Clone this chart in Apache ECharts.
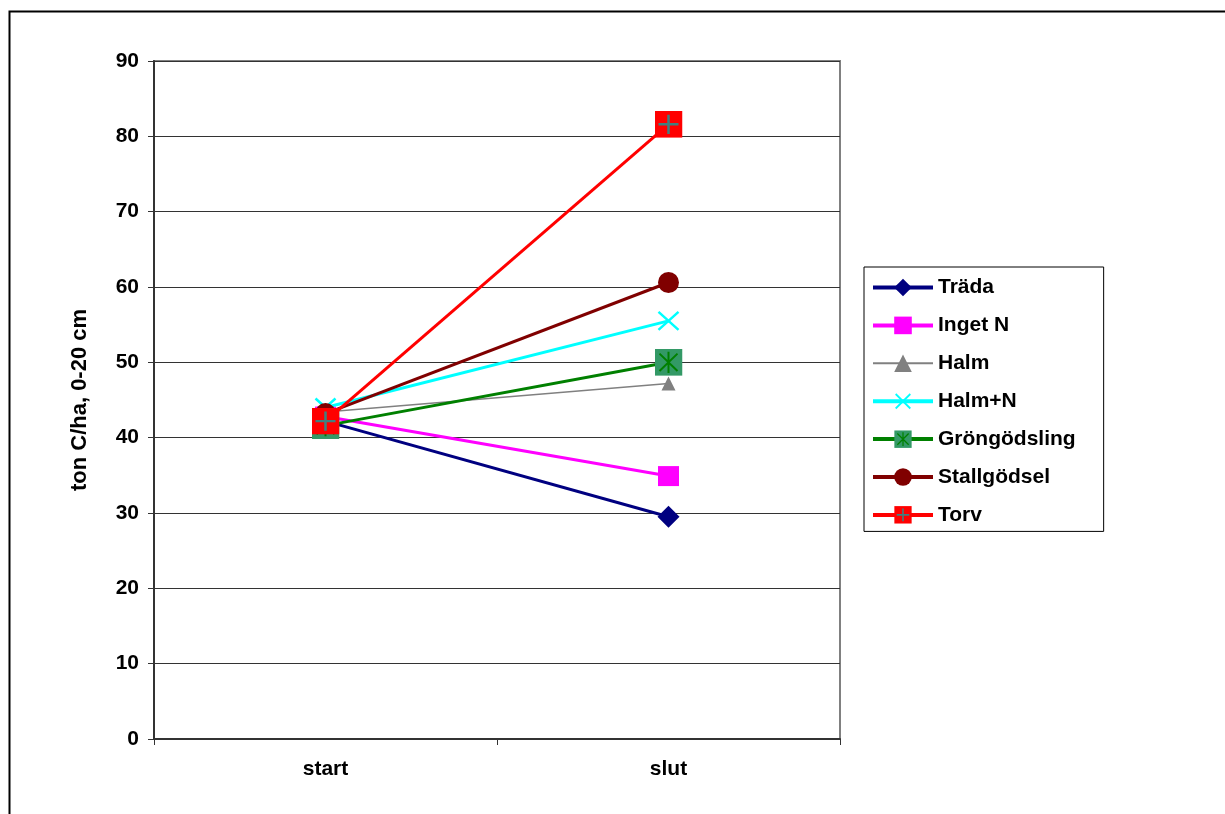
<!DOCTYPE html>
<html>
<head>
<meta charset="utf-8">
<script src="https://cdn.jsdelivr.net/npm/echarts@6/dist/echarts.min.js"></script>
<style>
  html, body { margin: 0; padding: 0; background: #fff; }
  #chart { width: 1225px; height: 814px; }
</style>
</head>
<body>
<div id="chart"></div>
<script>
// Soil carbon stock (ton C/ha, 0-20 cm) at the start and end of the trial
const categories = ['start', 'slut'];
const seriesNames = ['Träda', 'Inget N', 'Halm', 'Halm+N', 'Gröngödsling', 'Stallgödsel', 'Torv'];
const trada        = [42.2, 29.5];
const ingetN       = [42.8, 34.9];
const halm         = [43.4, 47.2];
const halmN        = [44.0, 55.5];
const grongodsling = [41.6, 50.0];
const stallgodsel  = [43.2, 60.6];
const torv         = [42.2, 81.6];
const yTicks = { min: 0, max: 90, step: 10 };

// Two-colour marker shapes as inline SVG images (used in plot and legend alike)
function svgSymbol(w, h, body) {
  const svg = "<svg xmlns='http://www.w3.org/2000/svg' width='" + w + "' height='" + h +
    "' viewBox='0 0 " + w + " " + h + "'>" + body + "</svg>";
  return 'image://data:image/svg+xml;charset=utf-8,' + encodeURIComponent(svg);
}
const starSquare = svgSymbol(28, 28,
  "<rect width='28' height='28' fill='#339966'/>" +
  "<path d='M14 3V25M5 5L23 23M23 5L5 23' stroke='#008000' stroke-width='2' fill='none'/>");
const plusSquare = svgSymbol(28, 28,
  "<rect width='28' height='28' fill='#ff0000'/>" +
  "<path d='M14 4V24M4 14H24' stroke='#3f8080' stroke-width='2.5' fill='none'/>");
const cross = svgSymbol(24, 22,
  "<path d='M2 2L22 20M22 2L2 20' stroke='#00ffff' stroke-width='2.5' fill='none'/>");

const styles = [
  { color: '#000080', width: 3,   legendWidth: 4, symbol: 'diamond',  size: [22, 22] },
  { color: '#ff00ff', width: 3,   legendWidth: 4, symbol: 'rect',     size: [21, 20] },
  { color: '#808080', width: 1.5, legendWidth: 2, symbol: 'triangle', size: [14, 14] },
  { color: '#00ffff', width: 3,   legendWidth: 4, symbol: cross,      size: [24, 22] },
  { color: '#008000', width: 3,   legendWidth: 4, symbol: starSquare, size: [28, 27] },
  { color: '#800000', width: 3,   legendWidth: 4, symbol: 'circle',   size: [21, 21] },
  { color: '#ff0000', width: 3,   legendWidth: 4, symbol: plusSquare, size: [28, 27] }
];
const values = [trada, ingetN, halm, halmN, grongodsling, stallgodsel, torv];

const font = 'Arial, "Liberation Sans", sans-serif';

const chart = echarts.init(document.getElementById('chart'), null, { renderer: 'canvas' });
chart.setOption({
  animation: false,
  backgroundColor: '#ffffff',
  graphic: [{
    type: 'rect',
    left: 7, top: 9,
    shape: { width: 1400, height: 1000 },
    style: { fill: 'none', stroke: '#000', lineWidth: 2 },
    silent: true, z: -10
  }],
  grid: {
    left: 154, right: 385, top: 61, bottom: 75,
    show: true, borderColor: '#808080', borderWidth: 2,
    containLabel: false
  },
  legend: {
    orient: 'vertical',
    left: 864, top: 267,
    padding: [10, 28, 6, 7],
    itemWidth: 60, itemHeight: 22, itemGap: 16.9,
    borderColor: '#000', borderWidth: 1,
    backgroundColor: '#fff',
    data: seriesNames.map((name, i) => ({
      name: name,
      lineStyle: { width: styles[i].legendWidth }
    })),
    textStyle: { fontFamily: font, fontWeight: 'bold', fontSize: 21, color: '#000' }
  },
  xAxis: {
    type: 'category',
    data: categories,
    boundaryGap: true,
    axisLine: { lineStyle: { color: '#333', width: 2 } },
    axisTick: { show: true, length: 6, lineStyle: { color: '#333', width: 1 } },
    axisLabel: { margin: 20, fontFamily: font, fontWeight: 'bold', fontSize: 21, color: '#000' },
    splitLine: { show: false }
  },
  yAxis: {
    type: 'value',
    min: yTicks.min, max: yTicks.max, interval: yTicks.step,
    name: 'ton C/ha, 0-20 cm',
    nameLocation: 'middle',
    nameRotate: 90,
    nameGap: 63,
    nameTextStyle: { fontFamily: font, fontWeight: 'bold', fontSize: 22, color: '#000' },
    axisLine: { show: true, lineStyle: { color: '#333', width: 2 } },
    axisTick: { show: true, length: 6, lineStyle: { color: '#333', width: 1 } },
    axisLabel: { margin: 15, fontFamily: font, fontWeight: 'bold', fontSize: 21, color: '#000' },
    splitLine: { show: true, lineStyle: { color: '#333', width: 1 } }
  },
  series: seriesNames.map((name, i) => ({
    name: name,
    type: 'line',
    data: values[i],
    symbol: styles[i].symbol,
    symbolSize: styles[i].size,
    showAllSymbol: true,
    lineStyle: { color: styles[i].color, width: styles[i].width },
    itemStyle: { color: styles[i].color },
    emphasis: { disabled: true },
    z: 2 + i
  }))
});
</script>
</body>
</html>
